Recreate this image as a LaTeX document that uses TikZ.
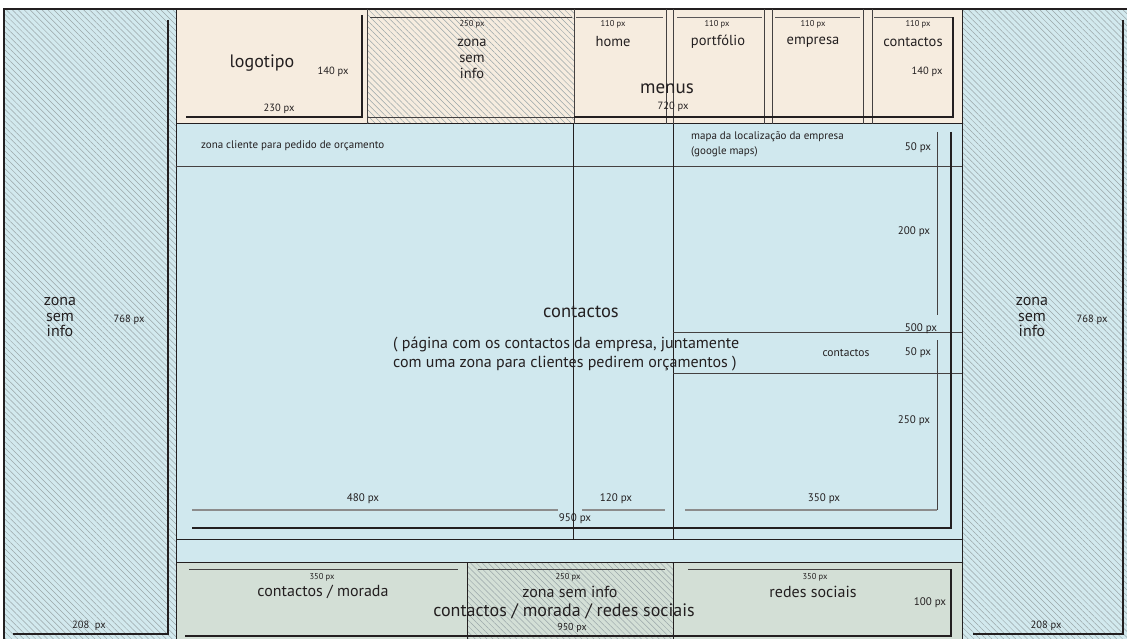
\documentclass[tikz,border=0pt]{standalone}
\usepackage{fontspec}
\setmainfont{PT Sans}
\usetikzlibrary{patterns.meta}
\definecolor{sideblue}{HTML}{D2E9EE}
\definecolor{mainblue}{HTML}{D0E8EE}
\definecolor{beige}{HTML}{F6ECDF}
\definecolor{footgreen}{HTML}{D3DFD6}
\definecolor{hatchc}{HTML}{9AA6A8}
\definecolor{dimgray}{HTML}{8C8C8C}
\definecolor{ink}{HTML}{231F20}
\newcommand\fsz[2]{\fontsize{#1}{#2}\selectfont}
\begin{document}
\begin{tikzpicture}[x=1pt,y=-1pt,
  hatch/.style={pattern={Lines[angle=-45,distance=4.2pt,line width=0.5pt]},pattern color=hatchc},
  frame/.style={draw=ink,line width=1pt},
  thinline/.style={draw=ink!85,line width=0.8pt},
  dimline/.style={draw=dimgray,line width=1.5pt},
  heavy/.style={draw=ink,line width=2.4pt},
  lbl/.style={inner sep=0pt,text=ink,font=\fsz{#1}{#1}},
  mlbl/.style={inner sep=0pt,text=ink,align=center},
]
\useasboundingbox (0,0) rectangle (1127,639);
% backgrounds
\fill[sideblue] (4,9) rectangle (176,645);
\fill[hatch] (4,9) rectangle (176,645);
\fill[sideblue] (962,9) rectangle (1130,645);
\fill[hatch] (962,9) rectangle (1130,645);
\fill[beige] (176,9) rectangle (962,124);
\fill[hatch] (367,9) rectangle (574,124);
\fill[mainblue] (176,124) rectangle (962,562);
\fill[footgreen] (176,562) rectangle (962,645);
\fill[hatch] (467,562) rectangle (673,645);
% outer frame and panel borders
\draw[frame,line width=1.4pt] (4,645) -- (4,9) -- (1130,9);
\draw[frame] (176,9) -- (176,645);
\draw[frame] (962,9) -- (962,645);
\draw[frame] (176,124) -- (962,124);
\draw[frame] (176,539) -- (962,539);
\draw[frame] (176,562) -- (962,562);
% side panels dimensions
\draw[heavy,line width=2pt] (168,20) -- (168,634) -- (13,634);
\draw[heavy,line width=2pt] (1123,20) -- (1123,634) -- (973,634);
% header dividers
\foreach \x in {367,574,666,673,764,772,863,872} \draw[thinline] (\x,9) -- (\x,124);
\draw[thinline] (370,17) -- (572,17);
\foreach \a/\b in {576/663,677/762,775/860,874/952} \draw[thinline,draw=ink!75] (\a,17) -- (\b,17);
\draw[heavy] (362,15) -- (362,117) -- (186,117);
\draw[thinline] (367,117) -- (574,117);
\draw[heavy,line width=1.6pt] (574,117) -- (953,117) -- (953,17);
% main area
\draw[thinline] (176,166) -- (962,166);
\draw[frame] (573,124) -- (573,539);
\draw[frame] (673,124) -- (673,539);
\draw[thinline] (673,332) -- (962,332);
\draw[thinline] (673,373) -- (962,373);
\draw[thinline] (937,132) -- (937,315);
\draw[thinline] (937,340) -- (937,510);
\draw[dimline] (192,510) -- (558,510);
\draw[dimline] (582,510) -- (665,510);
\draw[dimline] (685,510) -- (937,510);
\draw[heavy,line width=2.6pt] (951,132) -- (951,528) -- (192,528);
% footer
\draw[frame] (467,562) -- (467,645);
\draw[frame] (673,562) -- (673,645);
\draw[thinline] (189,569) -- (458,569);
\draw[thinline] (478,569) -- (665,569);
\draw[thinline] (688,569) -- (951,569);
\draw[heavy,line width=2.6pt] (951,569) -- (951,636) -- (185,636);
% ---- labels: side panels
\node[mlbl,font=\fsz{16}{15.5}] (lzona) at (60,317) {zona\\sem\\info};
\node[lbl=10.5] (l768) at (129,320) {768 px};
\node[lbl=10.5] (l208) at (89,626) {208\ \ px};
\node[mlbl,font=\fsz{16}{15.5}] (rzona) at (1032,317) {zona\\sem\\info};
\node[lbl=10.5] (r768) at (1092,320) {768 px};
\node[lbl=10.5] (r208) at (1046,626) {208 px};
% header
\node[lbl=18] (logo) at (262,63) {logotipo};
\node[lbl=10.5] (l140) at (333,72) {140 px};
\node[lbl=10.5] (l230) at (279,109) {230 px};
\node[lbl=8.5] (h250) at (472,24) {250 px};
\node[mlbl,font=\fsz{14.5}{16}] (hzona) at (472,59) {zona\\sem\\info};
\node[lbl=8.5] (d1) at (613,24) {110 px};
\node[lbl=8.5] (d2) at (717,24) {110 px};
\node[lbl=8.5] (d3) at (813,24) {110 px};
\node[lbl=8.5] (d4) at (918,24) {110 px};
\node[lbl=14.5] (home) at (613,42) {home};
\node[lbl=14.5] (port) at (718,42) {portfólio};
\node[lbl=14.5] (emp) at (813,42) {empresa};
\node[lbl=14.5] (cont) at (913,42) {contactos};
\node[lbl=10.5] (r140) at (927,72) {140 px};
\node[lbl=19] (menus) at (667,89) {menus};
\node[lbl=10.5] (m720) at (673,107) {720 px};
% main area
\node[lbl=11, anchor=west] (cli) at (201,146) {zona cliente para pedido de orçamento};
\node[lbl=11, anchor=west] (mapa) at (691,137) {mapa da localização da empresa};
\node[lbl=11, anchor=west] (gmaps) at (691,152) {(google maps)};
\node[lbl=11] (m50a) at (918,148) {50 px};
\node[lbl=11] (m200) at (914,232) {200 px};
\node[lbl=11] (m500) at (921,329) {500 px};
\node[lbl=11] (m50b) at (918,353) {50 px};
\node[lbl=11.5] (mcont) at (846,353) {contactos};
\node[lbl=11] (m250) at (914,421) {250 px};
\node[lbl=18.5] (ccont) at (581,312) {contactos};
\node[lbl=16, anchor=west] (p1) at (393,344) {( página com os contactos da empresa, juntamente};
\node[lbl=16, anchor=west] (p2) at (393,364) {com uma zona para clientes pedirem orçamentos )};
\node[lbl=11] (m480) at (363,499) {480 px};
\node[lbl=11] (m120) at (616,499) {120 px};
\node[lbl=11] (m350) at (824,499) {350 px};
\node[lbl=11] (m950) at (575,519) {950 px};
% footer
\node[lbl=8.5] (f350a) at (322,577) {350 px};
\node[lbl=8.5] (f250) at (568,577) {250 px};
\node[lbl=8.5] (f350b) at (815,577) {350 px};
\node[lbl=16] (fcm) at (323,592) {contactos / morada};
\node[lbl=16] (fzona) at (570,592) {zona sem info};
\node[lbl=16] (fredes) at (813,592) {redes sociais};
\node[lbl=11] (f100) at (930,603) {100 px};
\node[lbl=18] (fall) at (564,611) {contactos / morada / redes sociais};
\node[lbl=10] (f950) at (572,628) {950 px};
\end{tikzpicture}
\end{document}
